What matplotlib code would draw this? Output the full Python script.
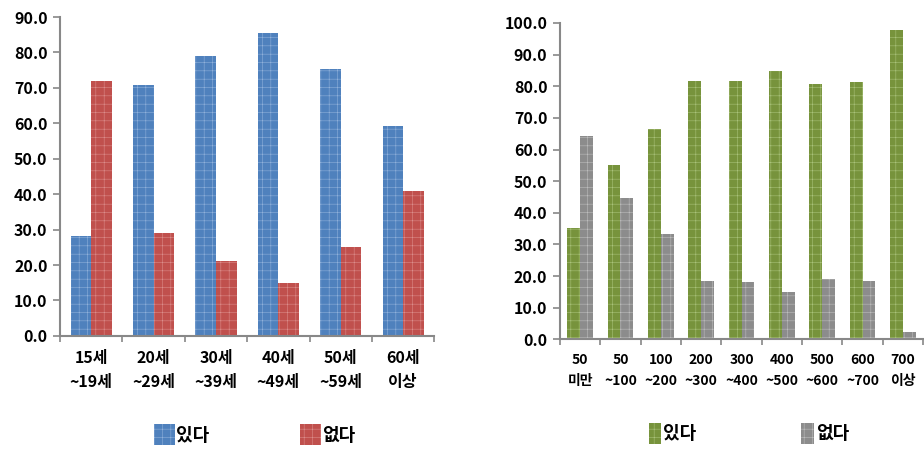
import numpy as np
import matplotlib
matplotlib.use("Agg")
import matplotlib.pyplot as plt

plt.rcParams['font.family'] = ['Noto Sans CJK KR', 'DejaVu Sans']
plt.rcParams['hatch.linewidth'] = 0.4

# 연령별
age_labels = ['15세\n~19세', '20세\n~29세', '30세\n~39세', '40세\n~49세', '50세\n~59세', '60세\n이상']
age_yes = [28.1, 70.9, 79.1, 85.6, 75.3, 59.2]
age_no = [71.9, 29.1, 21.0, 14.8, 25.0, 41.0]

# 소득별
inc_labels = ['50\n미만', '50\n~100', '100\n~200', '200\n~300', '300\n~400', '400\n~500', '500\n~600', '600\n~700', '700\n이상']
inc_yes = [35.2, 55.1, 66.5, 81.7, 81.7, 84.8, 80.7, 81.2, 97.6]
inc_no = [64.4, 44.8, 33.4, 18.4, 18.0, 14.9, 19.0, 18.4, 2.2]

series_names = ['있다', '없다']

fig = plt.figure(figsize=(9.24, 4.49), dpi=100)
ax1 = fig.add_axes([0.065, 0.252, 0.405, 0.710])
ax2 = fig.add_axes([0.606, 0.244, 0.393, 0.705])


def draw(ax, labels, yes, no, c1, c2, h1, h2, width, ymax, fs_x):
    x = np.arange(len(labels))
    ax.bar(x - width / 2, yes, width, color=c1, edgecolor=h1, linewidth=0, hatch='++', label=series_names[0])
    ax.bar(x + width / 2, no, width, color=c2, edgecolor=h2, linewidth=0, hatch='++', label=series_names[1])
    ax.set_xlim(-0.5, len(labels) - 0.5)
    ax.set_ylim(0, ymax)
    ax.set_yticks(np.arange(0, ymax + 1, 10))
    ax.set_yticklabels(['%.1f' % v for v in np.arange(0, ymax + 1, 10)], fontsize=11.5, fontweight='bold')
    ax.set_xticks(x)
    ax.set_xticklabels(labels, fontsize=fs_x, fontweight='bold', linespacing=1.6)
    ax.tick_params(axis='x', which='major', length=0, pad=10)
    ax.set_xticks(np.arange(-0.5, len(labels), 1), minor=True)
    ax.tick_params(axis='x', which='minor', length=4, color='#888888', width=1.2)
    ax.tick_params(axis='y', length=5, color='#888888', width=1.2, pad=4)
    for s in ['top', 'right']:
        ax.spines[s].set_visible(False)
    for s in ['left', 'bottom']:
        ax.spines[s].set_color('#888888')
        ax.spines[s].set_linewidth(1.5)


draw(ax1, age_labels, age_yes, age_no, '#4F81BD', '#C0504D', '#8FB0DA', '#DB8C8A', 0.33, 90, 11.5)
draw(ax2, inc_labels, inc_yes, inc_no, '#77933C', '#8C8C8C', '#A9C27A', '#BDBDBD', 0.315, 100, 10)

ax1.legend(ncol=2, loc='center', bbox_to_anchor=(0.52, -0.31), frameon=False,
           prop={'size': 13, 'weight': 'bold'}, handlelength=1.2, handleheight=1.4,
           handletextpad=0.05, columnspacing=5.0)
ax2.legend(ncol=2, loc='center', bbox_to_anchor=(0.52, -0.296), frameon=False,
           prop={'size': 13, 'weight': 'bold'}, handlelength=0.7, handleheight=1.4,
           handletextpad=0.1, columnspacing=5.8)

fig.savefig('out.png', dpi=100)
